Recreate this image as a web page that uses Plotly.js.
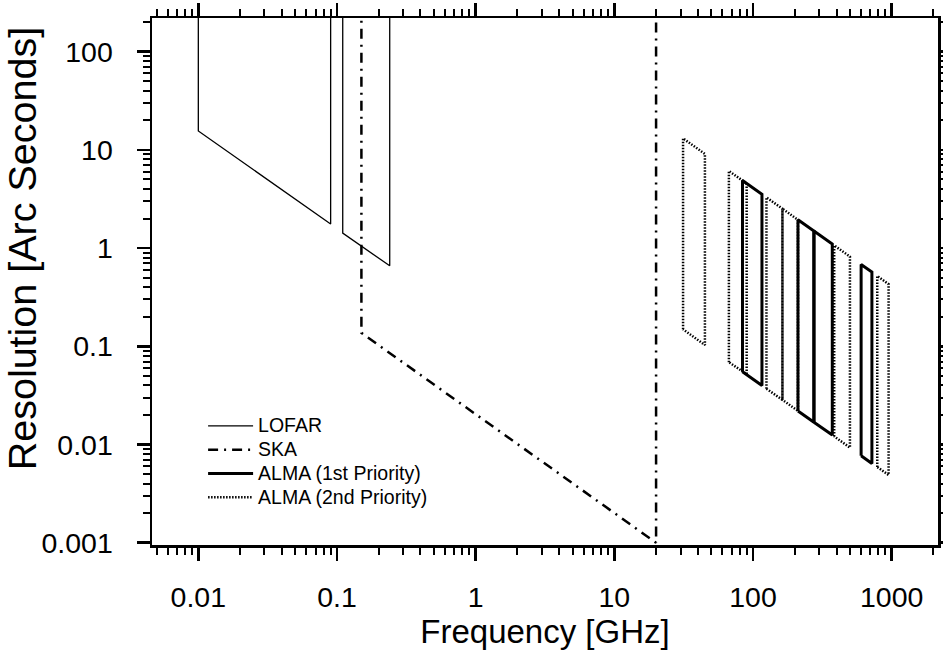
<!DOCTYPE html>
<html>
<head>
<meta charset="utf-8">
<script src="https://cdn.plot.ly/plotly-3.0.1.min.js"></script>
<style>html,body{margin:0;padding:0;background:#fff;}#chart{width:943px;height:652px;}</style>
</head>
<body>
<div id="chart"></div>
<script>
// ---------------- data (frequency in GHz, resolution in arcsec) ----------------
// LOFAR: two bands (low / high), each open to the top of the plot
const lofarFreq = [0.01, 0.01, 0.09, 0.09, null, 0.11, 0.11, 0.24, 0.24];
const lofarRes  = [300, 15.6, 1.76, 300, null, 300, 1.42, 0.66, 300];

// SKA
const skaFreq = [0.15, 0.15, 20, 20];
const skaRes  = [300, 0.137, 0.001, 300];

// ALMA 1st priority bands (3, 6, 7, 9)
const alma1FreqLo = [84, 211, 275, 602];
const alma1FreqHi = [116, 275, 373, 720];
const alma1TopLo  = [4.88, 1.94, 1.49, 0.68];
const alma1TopHi  = [3.53, 1.49, 1.10, 0.57];
const alma1BotLo  = [0.055, 0.022, 0.0169, 0.0077];
const alma1BotHi  = [0.040, 0.0169, 0.0125, 0.0064];

// ALMA 2nd priority bands (1, 2, 4, 5, 8, 10)
const alma2FreqLo = [31.3, 67, 125, 163, 385, 787];
const alma2FreqHi = [45, 90, 163, 211, 500, 950];
const alma2TopLo  = [13.1, 6.1, 3.28, 2.52, 1.065, 0.52];
const alma2TopHi  = [9.1, 4.55, 2.52, 1.94, 0.82, 0.43];
const alma2BotLo  = [0.149, 0.069, 0.037, 0.0285, 0.0121, 0.0059];
const alma2BotHi  = [0.103, 0.052, 0.0285, 0.022, 0.0093, 0.0049];

// series names and axis ticks
const seriesNames = ['LOFAR', 'SKA', 'ALMA (1st Priority)', 'ALMA (2nd Priority)'];
const xTickVals = [0.01, 0.1, 1, 10, 100, 1000];
const xTickText = ['0.01', '0.1', '1', '10', '100', '1000'];
const yTickVals = [0.001, 0.01, 0.1, 1, 10, 100];
const yTickText = ['0.001', '0.01', '0.1', '1', '10', '100'];

// build closed band outlines separated by gaps
function outlines(fLo, fHi, tLo, tHi, bLo, bHi) {
  const xs = [], ys = [];
  for (let i = 0; i < fLo.length; i++) {
    xs.push(fLo[i], fLo[i], fHi[i], fHi[i], fLo[i], null);
    ys.push(bLo[i], tLo[i], tHi[i], bHi[i], bLo[i], null);
  }
  return {x: xs, y: ys};
}
const a1 = outlines(alma1FreqLo, alma1FreqHi, alma1TopLo, alma1TopHi, alma1BotLo, alma1BotHi);
const a2 = outlines(alma2FreqLo, alma2FreqHi, alma2TopLo, alma2TopHi, alma2BotLo, alma2BotHi);

const FONT = 'Liberation Sans, Arial, Helvetica, sans-serif';
const legName = s => '<span style="font-size:19.5px">' + s + '</span>';

const traces = [
  {x: lofarFreq, y: lofarRes, name: legName(seriesNames[0]), mode: 'lines', legendrank: 1,
   line: {color: '#000', width: 1.3}, connectgaps: false},
  {x: skaFreq, y: skaRes, name: legName(seriesNames[1]), mode: 'lines', legendrank: 2,
   line: {color: '#000', width: 2.5, dash: '10px,6px,2px,6px'}},
  {x: a2.x, y: a2.y, name: legName(seriesNames[3]), mode: 'lines', legendrank: 4,
   line: {color: '#000', width: 2.5, dash: '1.5px,1.5px'}, connectgaps: false},
  {x: a1.x, y: a1.y, name: legName(seriesNames[2]), mode: 'lines', legendrank: 3,
   line: {color: '#000', width: 3}, connectgaps: false}
];

const axisCommon = {
  type: 'log',
  showgrid: false, zeroline: false,
  showline: true, linecolor: '#000', linewidth: 2.5,
  mirror: 'allticks',
  ticks: 'outside', ticklen: 13, tickwidth: 2.5, tickcolor: '#000',
  minor: {dtick: 'D1', ticks: 'outside', ticklen: 7, tickwidth: 2, tickcolor: '#000', showgrid: false},
  tickfont: {family: FONT, size: 28.5, color: '#000'},
  tickmode: 'array'
};

const layout = {
  width: 943, height: 652,
  paper_bgcolor: '#fff', plot_bgcolor: '#fff',
  margin: {l: 152, r: 5, t: 18, b: 107},
  showlegend: true,
  legend: {x: 0.065, y: 0.258, xanchor: 'left', yanchor: 'top',
           bgcolor: 'rgba(0,0,0,0)', borderwidth: 0,
           font: {family: FONT, size: 16, color: '#000'}, itemwidth: 45},
  xaxis: Object.assign({}, axisCommon, {
    range: [-2.334, 3.334],
    tickvals: xTickVals, ticktext: xTickText,
    ticklabelstandoff: 12,
    title: {text: 'Frequency [GHz]', font: {family: FONT, size: 33, color: '#000'}, standoff: 6}
  }),
  yaxis: Object.assign({}, axisCommon, {
    range: [-3.023, 2.343],
    tickvals: yTickVals, ticktext: yTickText,
    ticklabelstandoff: 18,
    title: {text: '\u200b\u00a0\u00a0\u00a0\u00a0\u00a0\u00a0Resolution [Arc Seconds]', font: {family: FONT, size: 39.5, color: '#000'}, standoff: 0}
  })
};

Plotly.newPlot('chart', traces, layout, {displayModeBar: false, staticPlot: true});
</script>
</body>
</html>
